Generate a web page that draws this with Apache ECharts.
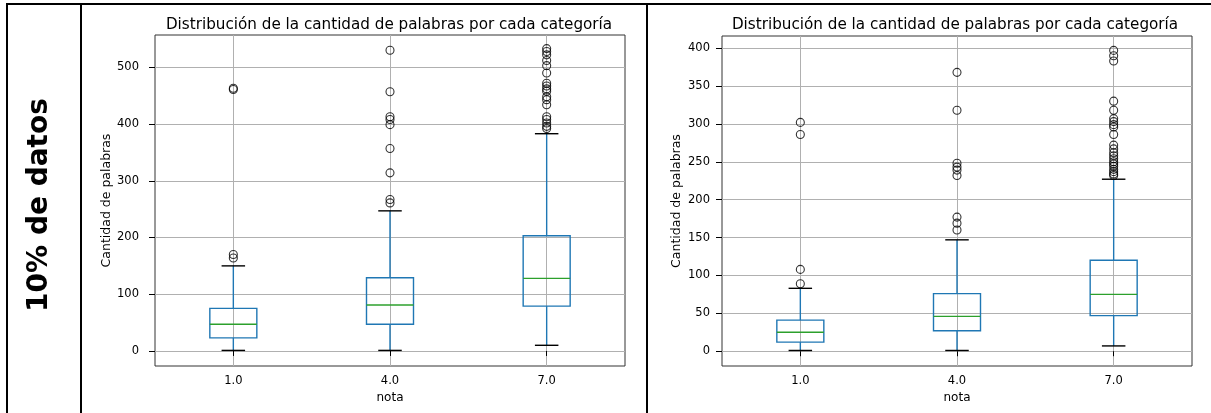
<!DOCTYPE html>
<html>
<head>
<meta charset="utf-8">
<title>Distribución de la cantidad de palabras</title>
<script src="https://cdn.jsdelivr.net/npm/echarts@6/dist/echarts.min.js"></script>
<style>
  html, body { margin: 0; padding: 0; background: #fff; }
  #chart { width: 1211px; height: 413px; }
</style>
</head>
<body>
<div id="chart"></div>
<script>
// Categories of "nota"
const categories = ['1.0', '4.0', '7.0'];

// Box statistics per category: [whiskerLow, q1, median, q3, whiskerHigh]
const leftStats = [
  [1, 23, 47, 75, 150],
  [1, 47, 81, 129, 247],
  [10, 79, 128, 203, 383]
];
const rightStats = [
  [1, 12, 25, 41, 83],
  [1, 27, 46, 76, 147],
  [7, 47, 75, 120, 227]
];

// Outliers per category
const leftOutliers = [
  [164, 170, 461, 463],
  [261, 267, 314, 357, 399, 408, 413, 457, 530],
  [392, 396, 402, 408, 413, 434, 443, 448, 458, 462, 467, 472, 490, 503, 512, 522, 528, 533]
];
const rightOutliers = [
  [89, 108, 286, 302],
  [160, 169, 177, 232, 239, 243, 248, 318, 368],
  [232, 234, 237, 240, 244, 247, 250, 254, 258, 262, 267, 272, 286, 296, 299, 303, 307, 318, 330, 383, 390, 397]
];

// Y-axis ticks
const leftTicks = [0, 100, 200, 300, 400, 500];
const rightTicks = [0, 50, 100, 150, 200, 250, 300, 350, 400];

const titleText = 'Distribución de la cantidad de palabras por cada categoría';
const rowLabel = '10% de datos';
const yName = 'Cantidad de palabras';
const xName = 'nota';

const FONT = '"DejaVu Sans", Verdana, sans-serif';
const BOX_COLOR = '#1f77b4';
const MEDIAN_COLOR = '#2ca02c';

const chart = echarts.init(document.getElementById('chart'), null, { renderer: 'canvas' });

function boxData(stats) {
  return stats.map((s, i) => [i + 1].concat(s));
}
function flierData(outs) {
  const d = [];
  outs.forEach((arr, i) => arr.forEach(v => d.push([i + 1, v])));
  return d;
}

// Box, whiskers, median and caps drawn from the axis scales
function renderBox(params, api) {
  const x = api.value(0);
  const lo = api.coord([x, api.value(1)]);
  const q1 = api.coord([x, api.value(2)]);
  const med = api.coord([x, api.value(3)]);
  const q3 = api.coord([x, api.value(4)]);
  const hi = api.coord([x, api.value(5)]);
  const boxW = api.size([0.3, 0])[0];
  const capW = api.size([0.15, 0])[0];
  const cx = q1[0];
  const lineStyle = { stroke: BOX_COLOR, lineWidth: 1.4, fill: null };
  return {
    type: 'group',
    children: [
      { type: 'line', shape: { x1: cx, y1: q1[1], x2: cx, y2: lo[1] }, style: lineStyle },
      { type: 'line', shape: { x1: cx, y1: q3[1], x2: cx, y2: hi[1] }, style: lineStyle },
      { type: 'rect', shape: { x: cx - boxW / 2, y: q3[1], width: boxW, height: q1[1] - q3[1] },
        style: { stroke: BOX_COLOR, lineWidth: 1.4, fill: 'none' } },
      { type: 'line', shape: { x1: cx - boxW / 2, y1: med[1], x2: cx + boxW / 2, y2: med[1] },
        style: { stroke: MEDIAN_COLOR, lineWidth: 1.4 } },
      { type: 'line', shape: { x1: cx - capW / 2, y1: lo[1], x2: cx + capW / 2, y2: lo[1] },
        style: { stroke: '#000', lineWidth: 1.4 } },
      { type: 'line', shape: { x1: cx - capW / 2, y1: hi[1], x2: cx + capW / 2, y2: hi[1] },
        style: { stroke: '#000', lineWidth: 1.4 } }
    ]
  };
}

function xAxisCfg(gridIndex) {
  return {
    type: 'value', gridIndex, min: 0.5, max: 3.5,
    name: xName, nameLocation: 'middle', nameGap: 25,
    nameTextStyle: { fontFamily: FONT, fontSize: 12, color: '#000' },
    axisLine: { show: false },
    axisTick: { show: true, length: 5, customValues: [1, 2, 3], lineStyle: { color: '#000', width: 1 } },
    axisLabel: { customValues: [1, 2, 3], formatter: v => categories[Math.round(v) - 1],
      fontFamily: FONT, fontSize: 11.5, color: '#000', margin: 9 },
    splitLine: { show: true, lineStyle: { color: '#b0b0b0', width: 1 } }
  };
}
function yAxisCfg(gridIndex, min, max, ticks, labelMargin, nameGap) {
  return {
    type: 'value', gridIndex, min, max,
    name: yName, nameLocation: 'middle', nameGap, nameRotate: 90,
    nameTextStyle: { fontFamily: FONT, fontSize: 12.5, color: '#000' },
    axisLine: { show: false },
    axisTick: { show: true, length: 6, customValues: ticks, lineStyle: { color: '#000', width: 1 } },
    axisLabel: { customValues: ticks, fontFamily: FONT, fontSize: 11.5, color: '#000', margin: labelMargin },
    splitLine: { show: true, lineStyle: { color: '#b0b0b0', width: 1 } }
  };
}

const option = {
  animation: false,
  backgroundColor: '#fff',
  title: [
    { text: titleText, left: 384, top: 13, textAlign: 'center',
      textStyle: { fontFamily: FONT, fontSize: 15.2, fontWeight: 'normal', color: '#000' } },
    { text: titleText, left: 950, top: 13, textAlign: 'center',
      textStyle: { fontFamily: FONT, fontSize: 15.2, fontWeight: 'normal', color: '#000' } }
  ],
  grid: [
    { left: 155, top: 35, width: 470, height: 331, show: true, borderColor: '#333', borderWidth: 1, backgroundColor: 'transparent' },
    { left: 722, top: 36, width: 470, height: 330, show: true, borderColor: '#333', borderWidth: 1, backgroundColor: 'transparent' }
  ],
  xAxis: [xAxisCfg(0), xAxisCfg(1)],
  yAxis: [yAxisCfg(0, -26.5, 557, leftTicks, 16, 37), yAxisCfg(1, -19.5, 416, rightTicks, 12, 39)],
  series: [
    { type: 'custom', xAxisIndex: 0, yAxisIndex: 0, renderItem: renderBox, data: boxData(leftStats),
      encode: { x: 0, y: [1, 2, 3, 4, 5] }, z: 3 },
    { type: 'custom', xAxisIndex: 1, yAxisIndex: 1, renderItem: renderBox, data: boxData(rightStats),
      encode: { x: 0, y: [1, 2, 3, 4, 5] }, z: 3 },
    { type: 'scatter', xAxisIndex: 0, yAxisIndex: 0, data: flierData(leftOutliers), symbol: 'circle', symbolSize: 8,
      itemStyle: { color: 'rgba(0,0,0,0)', borderColor: '#000', borderWidth: 1.1 }, z: 4 },
    { type: 'scatter', xAxisIndex: 1, yAxisIndex: 1, data: flierData(rightOutliers), symbol: 'circle', symbolSize: 8,
      itemStyle: { color: 'rgba(0,0,0,0)', borderColor: '#000', borderWidth: 1.1 }, z: 4 }
  ],
  graphic: [
    { type: 'line', shape: { x1: 6, y1: 4, x2: 1211, y2: 4 }, style: { stroke: '#000', lineWidth: 2 } },
    { type: 'line', shape: { x1: 7, y1: 3, x2: 7, y2: 413 }, style: { stroke: '#000', lineWidth: 2 } },
    { type: 'line', shape: { x1: 81, y1: 3, x2: 81, y2: 413 }, style: { stroke: '#000', lineWidth: 2 } },
    { type: 'line', shape: { x1: 647, y1: 3, x2: 647, y2: 413 }, style: { stroke: '#000', lineWidth: 2 } },
    { type: 'text', x: 40, y: 205, rotation: Math.PI / 2,
      style: { text: rowLabel, fontFamily: FONT, fontSize: 28, fontWeight: 'bold', fill: '#000',
        align: 'center', verticalAlign: 'middle' } }
  ]
};

chart.setOption(option);
</script>
</body>
</html>
